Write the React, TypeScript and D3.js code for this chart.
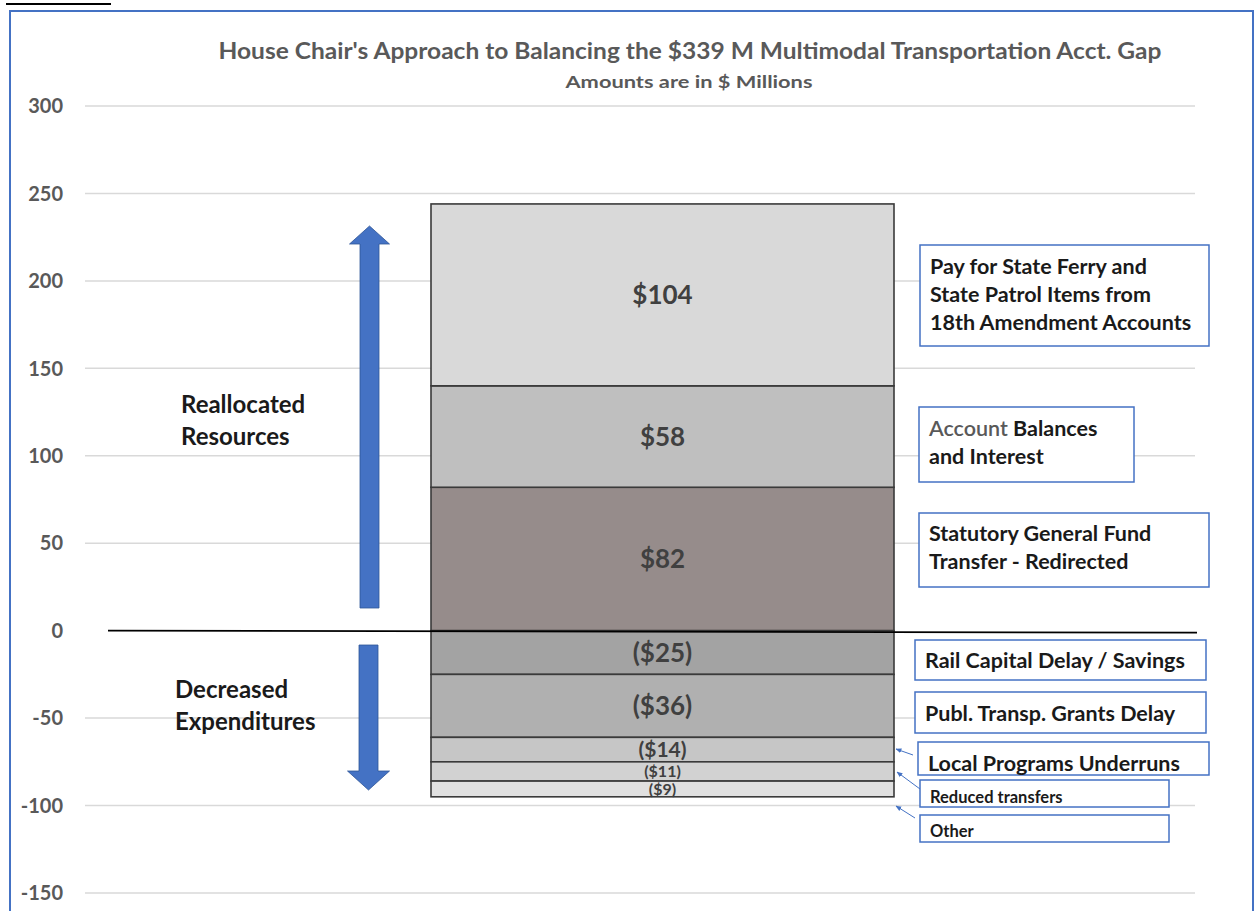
import React from "react";
import * as d3 from "d3";

const titleText = "House Chair's Approach to Balancing the $339 M Multimodal Transportation Acct. Gap";
const subtitleText = "Amounts are in $ Millions";
const segLabels = ["$82", "$58", "$104", "($25)", "($36)", "($14)", "($11)", "($9)"];
const segValues = [82, 58, 104, -25, -36, -14, -11, -9];
const segColors = ["#968c8b", "#bfbfbf", "#d9d9d9", "#a3a3a3", "#b0b0b0", "#c6c6c6", "#d2d2d2", "#e0e0e0"];
const yTicks = [300, 250, 200, 150, 100, 50, 0, -50, -100, -150];
const sideLabelsUp = ["Reallocated", "Resources"];
const sideLabelsDown = ["Decreased", "Expenditures"];
const boxTexts = [
  ["Pay for State Ferry and", "State Patrol Items from", "18th Amendment Accounts"],
  ["Account Balances", "and Interest"],
  ["Statutory General Fund", "Transfer - Redirected"],
  ["Rail Capital Delay / Savings"],
  ["Publ. Transp. Grants Delay"],
  ["Local Programs Underruns"],
  ["Reduced transfers"],
  ["Other"],
];

const FONT = "Lato, 'Open Sans', sans-serif";

export default function App() {
  const W = 1257, H = 911;
  const y = d3.scaleLinear().domain([-150, 300]).range([893, 106]);
  const barX0 = 431, barX1 = 894;

  // stack segments
  let pos = 0, neg = 0;
  const segs = segValues.map((v, i) => {
    let a, b;
    if (v >= 0) { a = pos; b = pos + v; pos = b; } else { a = neg; b = neg + v; neg = b; }
    return { v, a, b, label: segLabels[i], color: segColors[i] };
  });
  const labelSize = (v: number) => {
    const m = Math.abs(v);
    if (m >= 20) return 26;
    if (m >= 14) return 21;
    if (m >= 11) return 16;
    return 16;
  };

  // annotation boxes layout (pixels)
  const boxes = [
    { x: 920, y: 245, w: 289, h: 101, fs: 21.5, lh: 28, ty: 266 },
    { x: 919, y: 407, w: 215, h: 75, fs: 21.5, lh: 28, ty: 428 },
    { x: 919, y: 513, w: 290, h: 74, fs: 21.5, lh: 28, ty: 533 },
    { x: 915, y: 640, w: 291, h: 40, fs: 21.5, lh: 28, ty: 660 },
    { x: 915, y: 692, w: 291, h: 41, fs: 21.5, lh: 28, ty: 713 },
    { x: 918, y: 742, w: 291, h: 33, fs: 21.5, lh: 28, ty: 763 },
    { x: 920, y: 780, w: 249, h: 27, fs: 16.5, lh: 20, ty: 797 },
    { x: 920, y: 815, w: 249, h: 27, fs: 16.5, lh: 20, ty: 831 },
  ];
  const pointers = [
    { x1: 913, y1: 755, x2: 896, y2: 749 },
    { x1: 920, y1: 789, x2: 897, y2: 772 },
    { x1: 915, y1: 818, x2: 896, y2: 806 },
  ];

  const arrowUp = (cx: number, top: number, bottom: number) => {
    const sw = 9.5, hw = 20, hh = 18;
    return `M${cx - sw},${bottom} L${cx - sw},${top + hh} L${cx - hw},${top + hh} L${cx},${top} L${cx + hw},${top + hh} L${cx + sw},${top + hh} L${cx + sw},${bottom} Z`;
  };
  const arrowDown = (cx: number, top: number, bottom: number) => {
    const sw = 9.5, hw = 21, hh = 19;
    return `M${cx - sw},${top} L${cx - sw},${bottom - hh} L${cx - hw},${bottom - hh} L${cx},${bottom} L${cx + hw},${bottom - hh} L${cx + sw},${bottom - hh} L${cx + sw},${top} Z`;
  };

  return (
    <svg width={W} height={H} style={{ position: "absolute", left: 0, top: 0, background: "#fff" }}>
      <defs>
        <marker id="ah" viewBox="0 0 10 10" refX="9" refY="5" markerWidth="6" markerHeight="6" orient="auto">
          <path d="M0,1 L10,5 L0,9 Z" fill="#4472c4" />
        </marker>
      </defs>
      <rect x={0} y={0} width={W} height={H} fill="#fff" />
      {/* fragment of page heading underline */}
      <line x1={6} x2={111} y1={4} y2={4} stroke="#000" strokeWidth={2} />
      {/* frame */}
      <path d={`M10,${H + 5} L10,11 L1253,11 L1253,${H + 5}`} fill="none" stroke="#4472c4" strokeWidth={2} />

      {/* title */}
      <text x={690} y={59} textAnchor="middle" fontFamily={FONT} fontWeight={700} fontSize={22} fill="#595959"
        textLength={943} lengthAdjust="spacingAndGlyphs">{titleText}</text>
      <text x={689} y={88} textAnchor="middle" fontFamily={FONT} fontWeight={700} fontSize={17} fill="#595959"
        textLength={247} lengthAdjust="spacingAndGlyphs">{subtitleText}</text>

      {/* grid + ticks */}
      {yTicks.map((t) => (
        <g key={t}>
          {t !== 0 && <line x1={85} x2={1195} y1={y(t)} y2={y(t)} stroke="#d9d9d9" strokeWidth={1.5} />}
          <text x={63} y={y(t)} dy="0.36em" textAnchor="end" fontFamily={FONT} fontWeight={700} fontSize={20} fill="#595959">{t}</text>
        </g>
      ))}

      {/* bar segments */}
      {segs.map((s, i) => {
        const top = Math.min(y(s.a), y(s.b));
        const h = Math.abs(y(s.a) - y(s.b));
        return (
          <g key={i}>
            <rect x={barX0} y={top} width={barX1 - barX0} height={h} fill={s.color} stroke="#3a3a3a" strokeWidth={1.6} />
            <text x={(barX0 + barX1) / 2} y={top + h / 2} dy="0.36em" textAnchor="middle" fontFamily={FONT}
              fontWeight={700} fontSize={labelSize(s.v)} fill="#404040">{s.label}</text>
          </g>
        );
      })}

      {/* zero line */}
      <line x1={108} x2={1197} y1={y(0)} y2={y(0) + 2} stroke="#000" strokeWidth={1.8} />

      {/* big arrows */}
      <path d={arrowUp(369.5, 226, 608)} fill="#4472c4" stroke="#2f5597" strokeWidth={0.8} />
      <path d={arrowDown(368.5, 645, 790)} fill="#4472c4" stroke="#2f5597" strokeWidth={0.8} />

      {sideLabelsUp.map((l, i) => (
        <text key={l} x={181} y={413 + i * 32} fontFamily={FONT} fontWeight={700} fontSize={24} fill="#1a1a1a">{l}</text>
      ))}
      {sideLabelsDown.map((l, i) => (
        <text key={l} x={175} y={698 + i * 32} fontFamily={FONT} fontWeight={700} fontSize={24} fill="#1a1a1a">{l}</text>
      ))}

      {/* annotation boxes */}
      {boxes.map((b, i) => (
        <g key={i}>
          <rect x={b.x} y={b.y} width={b.w} height={b.h} fill="#fff" stroke="#4472c4" strokeWidth={1.5} />
          {boxTexts[i].map((line, j) => {
            const ty = b.ty + j * b.lh;
            if (i === 1 && j === 0) {
              const parts = line.split(" ");
              return (
                <text key={j} x={b.x + 10} y={ty} dy="0.36em" fontFamily={FONT} fontWeight={700} fontSize={b.fs}>
                  <tspan fill="#595959" fontWeight={600}>{parts[0]}</tspan>
                  <tspan fill="#1a1a1a">{" " + parts.slice(1).join(" ")}</tspan>
                </text>
              );
            }
            return (
              <text key={j} x={b.x + 10} y={ty} dy="0.36em" fontFamily={FONT} fontWeight={700} fontSize={b.fs} fill="#1a1a1a">{line}</text>
            );
          })}
        </g>
      ))}
      {pointers.map((p, i) => (
        <line key={i} x1={p.x1} y1={p.y1} x2={p.x2} y2={p.y2} stroke="#4472c4" strokeWidth={1} markerEnd="url(#ah)" />
      ))}
    </svg>
  );
}
